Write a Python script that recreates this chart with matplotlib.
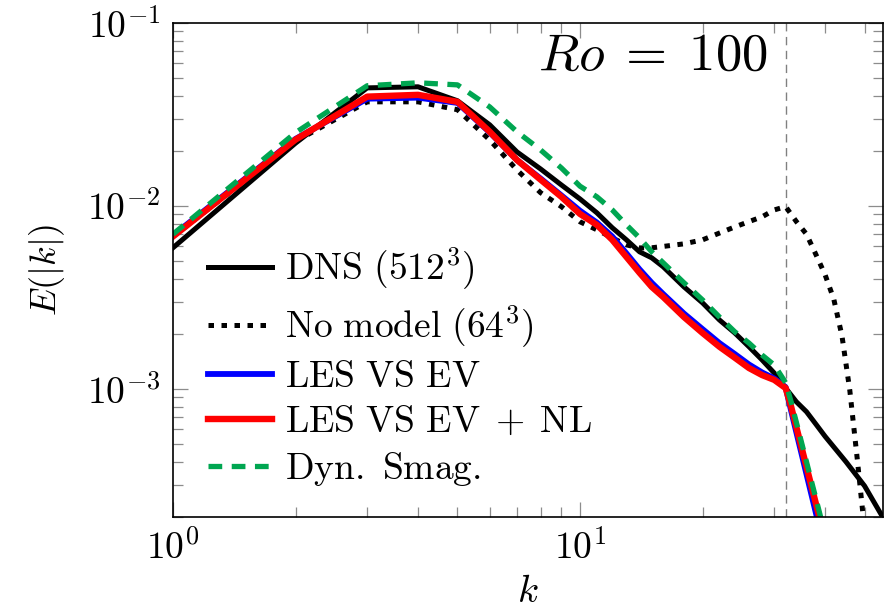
import matplotlib
matplotlib.use('Agg')
import matplotlib.pyplot as plt

plt.rcParams['mathtext.fontset'] = 'cm'
plt.rcParams['font.family'] = 'serif'
plt.rcParams['font.serif'] = ['cmr10', 'DejaVu Serif']
plt.rcParams['axes.formatter.use_mathtext'] = True

# wavenumbers
k_dns = [1, 2, 3, 4, 5, 6, 7, 8, 9, 10, 11, 12, 13, 14, 15, 16, 18, 20, 22, 24,
         26, 28, 30, 32, 34, 36, 38, 40, 45, 50, 55, 58]
e_dns = [5.9e-3, 0.022, 0.0441, 0.0447, 0.0375, 0.0277, 0.0197, 0.0159, 0.0130,
         0.0109, 0.00916, 0.00759, 0.00652, 0.00561, 0.00520, 0.00465, 0.00361,
         0.00295, 0.00238, 0.00202, 0.00170, 0.00144, 0.00122, 0.00101, 8.5e-4,
         7.5e-4, 6.4e-4, 5.5e-4, 4.0e-4, 2.95e-4, 2.05e-4, 1.7e-4]

k_nomodel = [1, 2, 3, 4, 5, 6, 7, 8, 9, 10, 11, 12, 13, 14, 15, 16, 18, 20, 22,
             24, 26, 28, 30, 32, 34, 36, 38, 40, 42, 44, 46, 48, 50]
e_nomodel = [6.8e-3, 0.0225, 0.0370, 0.0370, 0.0335, 0.0229, 0.0157, 0.0118,
             0.0099, 0.00818, 0.0074, 0.00668, 0.00612, 0.00589, 0.0059, 0.0060,
             0.0062, 0.00652, 0.0071, 0.00767, 0.0082, 0.00871, 0.0095, 0.0099,
             0.0082, 0.0070, 0.0054, 0.0042, 0.0031, 0.00195, 0.00098, 0.00041,
             0.00017]

k_les = [1, 2, 3, 4, 5, 6, 7, 8, 9, 10, 11, 12, 13, 14, 15, 16, 18, 20, 22, 24,
         26, 28, 30, 32, 33, 40]
e_ev = [6.9e-3, 0.0232, 0.0385, 0.0390, 0.0365, 0.0252, 0.0178, 0.0141, 0.0114,
        0.0094, 0.0081, 0.0068, 0.0055, 0.0045, 0.0038, 0.0033, 0.00258, 0.00212,
        0.00178, 0.00155, 0.00136, 0.00123, 0.00114, 0.00102, 7.6e-4, 1.3e-4]
e_evnl = [6.8e-3, 0.0230, 0.0395, 0.0404, 0.0370, 0.0254, 0.0178, 0.0139,
          0.0112, 0.00903, 0.00787, 0.00652, 0.00526, 0.00431, 0.00361, 0.00318,
          0.00247, 0.00202, 0.00170, 0.00148, 0.00130, 0.00119, 0.00112, 0.00101,
          8.0e-4, 1.5e-4]
e_smag = [7.0e-3, 0.0251, 0.0453, 0.0470, 0.0458, 0.0347, 0.0254, 0.0202,
          0.0161, 0.0128, 0.0112, 0.0095, 0.00787, 0.00668, 0.00561, 0.00489,
          0.00380, 0.00306, 0.00247, 0.00205, 0.00178, 0.00153, 0.00135, 0.00108,
          8.5e-4, 1.6e-4]

k_cut = 32

fig = plt.figure(figsize=(8.87, 6.16), dpi=100)
ax = fig.add_axes([0.195, 0.161, 0.8005, 0.802])

# cutoff wavenumber of the coarse grid
ax.axvline(k_cut, color='#808080', lw=1.0, dashes=(6, 4), zorder=1)

ax.plot(k_dns, e_dns, color='black', lw=3.6, label=r'$\mathrm{DNS\ (512^3)}$')
ax.plot(k_nomodel, e_nomodel, color='black', lw=3.6, dashes=(1.1, 1.5),
        label=r'$\mathrm{No\ model\ (64^3)}$')
ax.plot(k_les, e_ev, color='#0000ff', lw=4.2, label=r'$\mathrm{LES\ VS\ EV}$')
ax.plot(k_les, e_evnl, color='#ff0000', lw=4.6,
        label=r'$\mathrm{LES\ VS\ EV\;+\;NL}$')
ax.plot(k_les, e_smag, color='#00a651', lw=3.8, dashes=(2.6, 1.8),
        label=r'$\mathrm{Dyn.\ Smag.}$')

ax.set_xscale('log')
ax.set_yscale('log')
ax.set_xlim(1, 55.5)
ax.set_ylim(2e-4, 1e-1)

ax.tick_params(which='both', direction='in', top=True, right=True,
               color='#8c8c8c', width=0.9, labelsize=27, pad=9)
ax.tick_params(which='major', length=11)
ax.tick_params(which='minor', length=7.5)
for s in ax.spines.values():
    s.set_linewidth(1.2)

ax.set_xlabel(r'$k$', fontsize=28, labelpad=6)
ax.set_ylabel(r'$E(|k|)$', fontsize=26, labelpad=14)

ax.text(0.676, 0.905, r'$Ro\;=\;100$', transform=ax.transAxes,
        fontsize=38, ha='center', va='baseline')

ax.legend(loc='upper left', bbox_to_anchor=(0.05, 0.55), frameon=False,
          fontsize=27, handlelength=1.7, handletextpad=0.35, labelspacing=0.3,
          borderpad=0, borderaxespad=0)

fig.savefig('out.png', dpi=100)
